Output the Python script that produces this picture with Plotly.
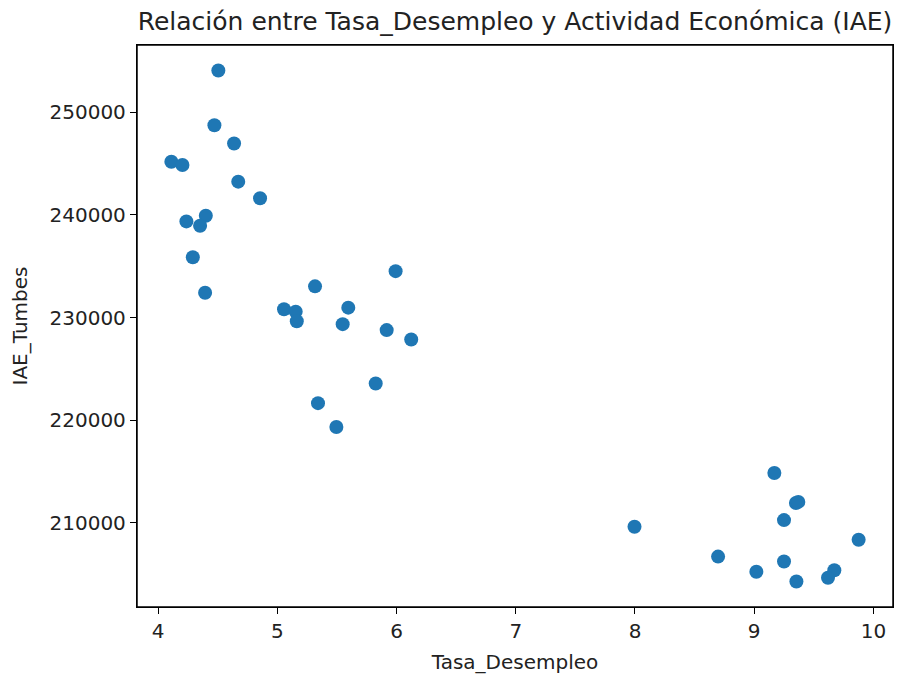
import plotly.graph_objects as go

# Tasa de desempleo (%) vs índice de actividad económica de Tumbes
tasa_desempleo = [
    4.505, 4.472, 4.637, 4.111, 4.204, 4.672, 4.855, 4.237, 4.400, 4.352,
    4.291, 4.394, 5.992, 5.316, 5.056, 5.154, 5.163, 5.595, 5.548, 5.917,
    6.123, 5.825, 5.341, 5.495, 7.996, 9.169, 9.350, 9.370, 9.250, 9.876,
    8.697, 9.250, 9.018, 9.354, 9.672, 9.619,
]
iae_tumbes = [
    254037, 248712, 246931, 245160, 244840, 243224, 241607, 239352, 239903, 238935,
    235866, 232410, 234511, 233030, 230804, 230571, 229642, 230958, 229351, 228771,
    227861, 223572, 221665, 219342, 209632, 214860, 211950, 212050, 210281, 208374,
    206728, 206244, 205247, 204308, 205402, 204666,
]

x_ticks = [4, 5, 6, 7, 8, 9, 10]
y_ticks = [210000, 220000, 230000, 240000, 250000]

# márgenes del 5% como matplotlib
def rango(vals, m=0.05):
    lo, hi = min(vals), max(vals)
    d = (hi - lo) * m
    return [lo - d, hi + d]

fuente = "DejaVu Sans"
texto = "#222"

fig = go.Figure()
fig.add_trace(go.Scatter(
    x=tasa_desempleo,
    y=iae_tumbes,
    mode="markers",
    marker=dict(color="#1f77b4", size=14, line=dict(width=0)),
    showlegend=False,
))

eje = dict(
    showline=True, mirror=True, linecolor="black", linewidth=1.3,
    ticks="outside", ticklen=6, tickwidth=1.3, tickcolor="black",
    showgrid=False, zeroline=False,
    tickfont=dict(family=fuente, size=20, color=texto),
    automargin=False,
)

fig.update_layout(
    width=898, height=675,
    paper_bgcolor="white", plot_bgcolor="white",
    margin=dict(l=137, r=5, t=45, b=68),
    title=dict(
        text="Relación entre Tasa_Desempleo y Actividad Económica (IAE)",
        font=dict(family=fuente, size=25, color=texto),
        x=(137 + 893) / 2 / 898, xanchor="center",
        y=1 - 21 / 675, yanchor="middle",
    ),
    xaxis=dict(
        eje, range=rango(tasa_desempleo), tickvals=x_ticks,
        title=dict(text="Tasa_Desempleo", font=dict(family=fuente, size=20, color=texto), standoff=12),
    ),
    yaxis=dict(
        eje, range=rango(iae_tumbes), tickvals=y_ticks, tickformat="d",
        title=dict(text="IAE_Tumbes", font=dict(family=fuente, size=20, color=texto), standoff=16),
    ),
    # marco completo de los ejes
    shapes=[dict(type="rect", xref="paper", yref="paper", x0=0, y0=0, x1=1, y1=1,
                 line=dict(color="black", width=1.5), layer="above")],
)

fig.write_html(
    "out.html",
    config={"displayModeBar": False},
    post_script="document.body.style.margin='0px';",
)
